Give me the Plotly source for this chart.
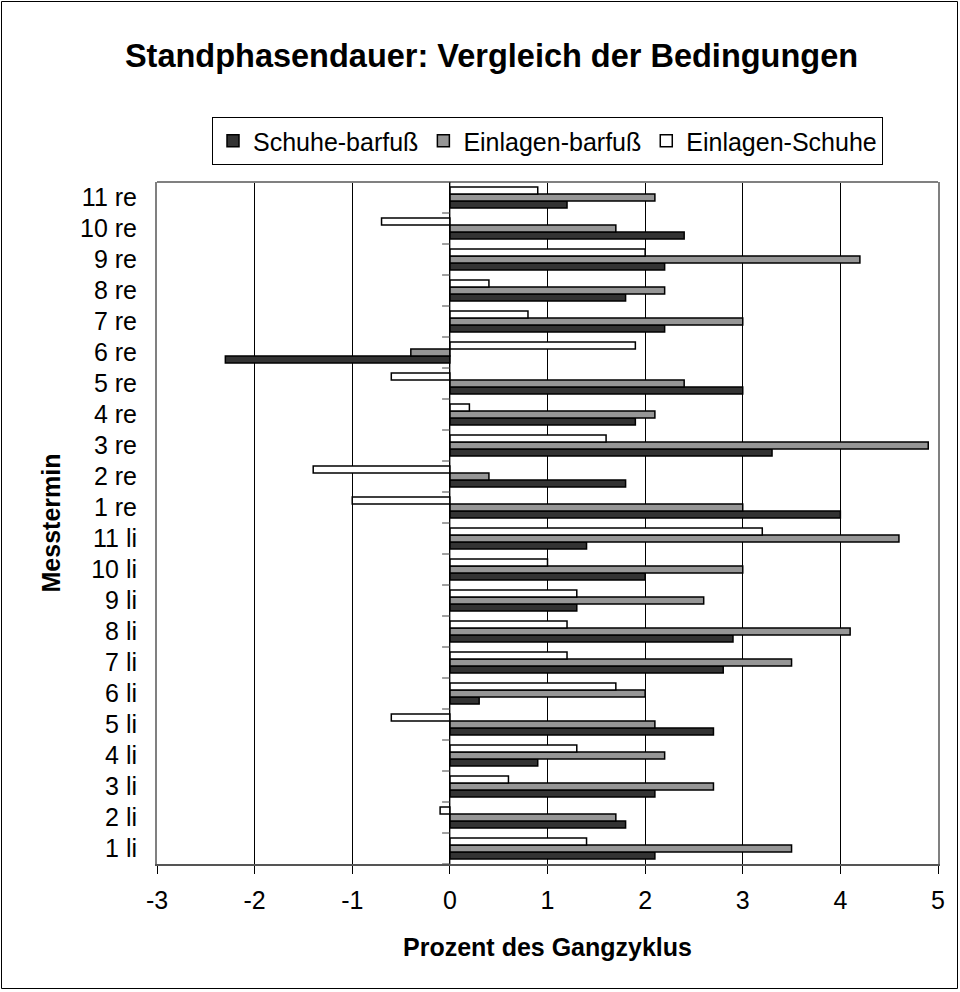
import plotly.graph_objects as go

categories = ["1 li", "2 li", "3 li", "4 li", "5 li", "6 li", "7 li", "8 li", "9 li", "10 li", "11 li",
              "1 re", "2 re", "3 re", "4 re", "5 re", "6 re", "7 re", "8 re", "9 re", "10 re", "11 re"]
schuhe_barfuss = [2.1, 1.8, 2.1, 0.9, 2.7, 0.3, 2.8, 2.9, 1.3, 2.0, 1.4,
                  4.0, 1.8, 3.3, 1.9, 3.0, -2.3, 2.2, 1.8, 2.2, 2.4, 1.2]
einlagen_barfuss = [3.5, 1.7, 2.7, 2.2, 2.1, 2.0, 3.5, 4.1, 2.6, 3.0, 4.6,
                    3.0, 0.4, 4.9, 2.1, 2.4, -0.4, 3.0, 2.2, 4.2, 1.7, 2.1]
einlagen_schuhe = [1.4, -0.1, 0.6, 1.3, -0.6, 1.7, 1.2, 1.2, 1.3, 1.0, 3.2,
                   -1.0, -1.4, 1.6, 0.2, -0.6, 1.9, 0.8, 0.4, 2.0, -0.7, 0.9]
series_names = ["Schuhe-barfuß", "Einlagen-barfuß", "Einlagen-Schuhe"]
x_ticks = [-3, -2, -1, 0, 1, 2, 3, 4, 5]

FONT = "Liberation Sans, Arial, sans-serif"
colors = ["#333333", "#969696", "#ffffff"]

fig = go.Figure()
for name, vals, col in zip(series_names, [schuhe_barfuss, einlagen_barfuss, einlagen_schuhe], colors):
    fig.add_trace(go.Bar(
        y=categories, x=vals, name=name, orientation="h",
        marker=dict(color=col, line=dict(color="#000000", width=1.5)),
    ))

W, H = 960, 992
ml, mr, mt, mb = 157, 22, 182, 128
pw, ph = W - ml - mr, H - mt - mb

shapes = []
# outer chart border
shapes.append(dict(type="rect", xref="paper", yref="paper",
                   x0=-(ml - 1.5) / pw, x1=1 + (mr - 2.5) / pw,
                   y0=-(mb - 3.5) / ph, y1=1 + (mt - 1.5) / ph,
                   line=dict(color="#000000", width=1), layer="below"))
# top border of plot area
shapes.append(dict(type="line", xref="paper", yref="paper", x0=0, x1=1, y0=1, y1=1,
                   line=dict(color="#808080", width=2)))
# category tick marks on the zero-crossing value axis
for i in range(len(categories) + 1):
    shapes.append(dict(type="line", xref="x", yref="y",
                       x0=-0.08, x1=0, y0=i - 0.5, y1=i - 0.5,
                       line=dict(color="#808080", width=1.5)))
# zero line
shapes.append(dict(type="line", xref="x", yref="paper", x0=0, x1=0, y0=0, y1=1,
                   line=dict(color="#000000", width=1)))

fig.update_layout(
    width=W, height=H,
    margin=dict(l=ml, r=mr, t=mt, b=mb),
    paper_bgcolor="#ffffff", plot_bgcolor="#ffffff",
    font=dict(family=FONT, size=25, color="#000000"),
    barmode="group", bargap=0.32, bargroupgap=0.0,
    title=dict(text="<b>Standphasendauer: Vergleich der Bedingungen</b>",
               x=491.5 / W, xanchor="center", y=1 - 56 / H, yanchor="middle",
               font=dict(family=FONT, size=32.5, color="#000000")),
    legend=dict(orientation="h", x=0.5, xanchor="center", y=1 + (mt - 117) / ph, yanchor="top",
                bordercolor="#000000", borderwidth=1, bgcolor="#ffffff",
                font=dict(family=FONT, size=25), traceorder="normal",
                itemwidth=30, tracegroupgap=0),
    xaxis=dict(range=[-3, 5], tickvals=x_ticks, ticktext=[str(v) for v in x_ticks],
               showgrid=True, gridcolor="#000000", gridwidth=1,
               zeroline=False, showline=True, linecolor="#555555", linewidth=2,
               mirror=False, ticks="outside", ticklen=8, tickcolor="#000000", tickwidth=1,
               ticklabelstandoff=5,
               tickfont=dict(family=FONT, size=25),
               title=dict(text="<b>Prozent des Gangzyklus</b>", standoff=25,
                          font=dict(family=FONT, size=25))),
    yaxis=dict(categoryorder="array", categoryarray=categories, range=[-0.5, len(categories) - 0.5],
               showgrid=False, zeroline=False, showline=True, linecolor="#808080", linewidth=2,
               mirror=True, ticks="", ticklabelstandoff=13,
               tickfont=dict(family=FONT, size=25),
               title=dict(text="<b>Messtermin</b>", standoff=12,
                          font=dict(family=FONT, size=25))),
    shapes=shapes,
)

fig.write_html("out.html")
